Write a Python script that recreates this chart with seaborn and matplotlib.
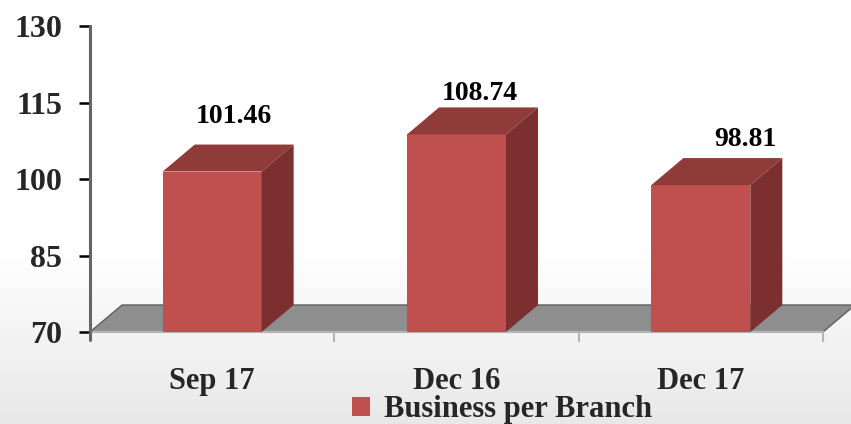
import numpy as np
import pandas as pd
import matplotlib
matplotlib.use("Agg")
import matplotlib.pyplot as plt
from matplotlib.patches import Polygon
import seaborn as sns

# ---- data ----
categories = ["Sep 17", "Dec 16", "Dec 17"]
values = [101.46, 108.74, 98.81]
value_labels = ["101.46", "108.74", "98.81"]
series_name = "Business per Branch"
yticks = [70, 85, 100, 115, 130]

# ---- style ----
label_offsets_px = [(22, 55), (23, 41), (45, 46)]   # label placement tweaks (pixels)
DEPTH_X_PX, DEPTH_Y_PX = 32, 27
FRONT, TOP, SIDE = "#C0504D", "#8F3B39", "#7B2F2F"
FLOOR = "#8E8E8E"

sns.set_theme(style="white")
plt.rcParams["font.family"] = ["Liberation Serif", "DejaVu Serif"]
plt.rcParams["font.weight"] = "bold"

W, H, DPI = 851, 424, 100
fig = plt.figure(figsize=(W / DPI, H / DPI), dpi=DPI)

# background gradient
bg = fig.add_axes([0, 0, 1, 1], zorder=-10)
rows = np.arange(H)
start = 250
t = np.clip((rows - start) / (H - start), 0, 1)
shade = 1.0 - 0.09 * t
bg.imshow(np.dstack([shade[:, None]] * 3), aspect="auto", extent=[0, 1, 0, 1])
bg.set_axis_off()

ax_l, ax_r, ax_t, ax_b = 90, 823, 26, 332
ax = fig.add_axes([ax_l / W, 1 - ax_b / H, (ax_r - ax_l) / W, (ax_b - ax_t) / H])
ax.patch.set_alpha(0)

df = pd.DataFrame({"period": categories, "value": values, "series": series_name})
sns.barplot(data=df, x="period", y="value", hue="series", palette=[FRONT],
            width=0.405, ax=ax, saturation=1, legend=True, zorder=3, linewidth=0)

ax.set_xlim(-0.5, 2.5)
ax.set_ylim(70, 130)

# pixel -> data conversion
px_x = 3.0 / (ax_r - ax_l)
px_y = 60.0 / (ax_b - ax_t)
dx, dy = DEPTH_X_PX * px_x, DEPTH_Y_PX * px_y

# floor
x0f, x1f = ax.get_xlim()
ybase = 70
bars = [p for p in ax.patches]
floor = Polygon([(x0f, ybase), (x1f, ybase), (x1f + dx, ybase + dy), (x0f + dx, ybase + dy)],
                closed=True, facecolor=FLOOR, edgecolor="#5f5f5f", lw=1.0, zorder=1, clip_on=False)
ax.add_patch(floor)

# 3D tops and sides
for p in bars:
    if p.get_height() == 0:
        continue
    bx0 = p.get_x()
    bx1 = bx0 + p.get_width()
    h = p.get_y() + p.get_height()
    top = Polygon([(bx0, h), (bx1, h), (bx1 + dx, h + dy), (bx0 + dx, h + dy)],
                  closed=True, facecolor=TOP, edgecolor="none", zorder=3, clip_on=False)
    side = Polygon([(bx1, ybase), (bx1 + dx, ybase + dy), (bx1 + dx, h + dy), (bx1, h)],
                   closed=True, facecolor=SIDE, edgecolor="none", zorder=3, clip_on=False)
    ax.add_patch(top)
    ax.add_patch(side)

# value labels
for i, (v, lab) in enumerate(zip(values, value_labels)):
    ox, oy = label_offsets_px[i]
    ax.annotate(lab, xy=(i, v), xytext=(ox * 0.72, oy * 0.72), textcoords="offset points",
                ha="center", va="center", fontsize=20, fontweight="bold", color="black",
                annotation_clip=False, zorder=5)

# axes styling
for s in ["top", "right"]:
    ax.spines[s].set_visible(False)
ax.spines["left"].set_color("#666666")
ax.spines["left"].set_linewidth(2.2)
ax.spines["left"].set_zorder(4)
ax.spines["bottom"].set_color("#b5b5b5")
ax.spines["bottom"].set_linewidth(1.6)
ax.plot([x0f, x0f], [70 - 8 * px_y, 70], color="#666666", lw=2.2, clip_on=False, zorder=4)

ax.set_yticks(yticks)
ax.set_yticklabels([str(v) for v in yticks])
ax.tick_params(axis="y", which="major", left=True, direction="out", length=8, width=1.8,
               color="black", pad=12, labelsize=23)
ax.set_xticks(range(len(categories)))
ax.set_xticklabels(categories)
ax.tick_params(axis="x", which="major", bottom=True, length=0, pad=25, labelsize=22)
ax.set_xticks([0.5, 1.5, 2.5], minor=True)
ax.tick_params(axis="x", which="minor", bottom=True, direction="out", length=7, width=1.5,
               color="#b5b5b5")
for lab in ax.get_xticklabels() + ax.get_yticklabels():
    lab.set_fontweight("bold")
ax.set_xlabel("")
ax.set_ylabel("")

sns.move_legend(ax, loc="center", bbox_to_anchor=(502 / W, 1 - 410 / H),
                bbox_transform=fig.transFigure, frameon=False, title=None,
                fontsize=22, handlelength=0.58, handleheight=0.58, handletextpad=0.45,
                borderpad=0, borderaxespad=0)
for txt in ax.get_legend().get_texts():
    txt.set_fontweight("bold")

fig.savefig("out.png", dpi=DPI)
